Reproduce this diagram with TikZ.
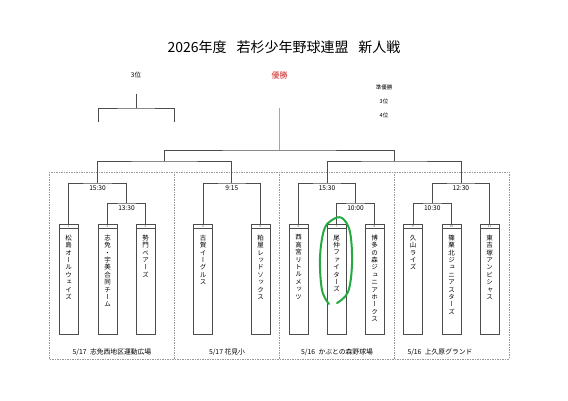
\documentclass[tikz,border=0pt]{standalone}
\usepackage{fontspec}
\setmainfont{Noto Sans CJK JP}
\newfontfamily\vfont[RawFeature=+vert]{Noto Sans CJK JP}
\makeatletter
\newcommand\vname[1]{\vbox{\baselineskip=7.4pt\lineskiplimit=-100pt\lineskip=0pt
  \@tfor\vch:=#1\do{\hbox to 8pt{\hss\vfont\vch\hss}}}}
\makeatother
\definecolor{ln}{gray}{0.3}
\definecolor{lnl}{gray}{0.65}
\definecolor{dsh}{gray}{0.6}
\definecolor{winred}{RGB}{205,35,35}
\definecolor{loopg}{RGB}{35,170,65}
\begin{document}
\begin{tikzpicture}[x=1pt,y=-1pt,
  br/.style={draw=ln,line width=0.7pt},
  brl/.style={draw=lnl,line width=1.2pt},
  team/.style={draw=ln,line width=0.6pt,minimum width=19pt,minimum height=110pt,inner sep=0pt},
  num/.style={font=\fontsize{3}{3}\selectfont,inner sep=0pt,text=ln},
  nm/.style={font=\fontsize{6.5}{7.4}\selectfont,inner sep=0pt,anchor=north},
  tm/.style={font=\fontsize{6.6}{7}\selectfont,inner sep=0pt},
  lab/.style={font=\fontsize{6.5}{7}\selectfont,inner sep=0pt},
  slab/.style={font=\fontsize{5.5}{6}\selectfont,inner sep=0pt},
  foot/.style={font=\fontsize{6.8}{7}\selectfont,inner sep=0pt},
  grp/.style={draw=dsh,line width=0.5pt,dash pattern=on 1.5pt off 1pt}]
\useasboundingbox[fill=white] (0,0) rectangle (568,401);

% title and top labels
\node[font=\fontsize{14}{16}\selectfont,inner sep=0pt] (title) at (284,47.5) {2026年度\hspace{0.7em}若杉少年野球連盟\hspace{0.7em}新人戦};
\node[lab] (third) at (136,75) {3位};
\node[lab,text=winred,font=\fontsize{8}{9}\selectfont] (champ) at (279.5,75) {優勝};
\node[slab] (runner) at (384,87) {準優勝};
\node[slab] (third2) at (384,101) {3位};
\node[slab] (fourth) at (384,115) {4位};

% group frames
\draw[grp] (49,172) rectangle (509,359);
\draw[grp] (174,172) -- (174,359);
\draw[grp] (279,172) -- (279,359);
\draw[grp] (394,172) -- (394,359);

% team boxes
\foreach \i/\x/\n in {1/68.5/松島オールウェイズ,2/107.5/志免・宇美合同チーム,3/145.5/勢門ベアーズ,
  4/203/古賀イーグルス,5/260.5/粕屋レッドソックス,6/298.5/西高宮リトルメッツ,
  7/336.5/尾仲ファイターズ,8/374.5/博多の森ジュニアホークス,9/413/久山ライズ,
  10/451.5/篠栗北ジュニアスターズ,11/489.5/東吉塚アンビシャス}{
  \node[team] (t\i) at (\x,279) {};
  \draw[ln,line width=0.6pt] ([yshift=-5pt]t\i.north west) -- ([yshift=-5pt]t\i.north east);
  \node[num] (n\i) at ([yshift=-2.5pt]t\i.north) {\i};
  \node[nm] (nm\i) at ([yshift=-11pt]t\i.north) {\expandafter\vname\expandafter{\n}};
}

% junction coordinates
\coordinate (m23) at (126.5,203);
\coordinate (g1) at (97.5,183);
\coordinate (g2) at (231.75,183);
\coordinate (m78) at (355.5,203);
\coordinate (g3) at (327,183);
\coordinate (m910) at (432.25,203);
\coordinate (g4) at (460.9,183);
\coordinate (sf1) at (164.6,161);
\coordinate (sf2) at (393.9,161);
\coordinate (fin) at (279.2,150);
\coordinate (top) at (279.2,108);
\coordinate (tp) at (136,94);
\coordinate (tpl) at (98,122);
\coordinate (tpr) at (174,122);
\coordinate (tph) at (136,108);

% brackets
\draw[br] (t2.north) |- (m23) -| (t3.north);
\draw[br] (t1.north) |- (g1) -| (m23);
\draw[br] (t4.north) |- (g2) -| (t5.north);
\draw[br] (t7.north) |- (m78) -| (t8.north);
\draw[br] (t6.north) |- (g3) -| (m78);
\draw[br] (t9.north) |- (m910) -| (t10.north);
\draw[br] (m910) |- (g4) -| (t11.north);
\draw[br] (g1) |- (sf1) -| (g2);
\draw[br] (g3) |- (sf2) -| (g4);
\draw[br] (sf1) |- (fin) -| (sf2);
\draw[brl] (fin) -- (top);
\draw[br] (tpl) |- (tph) -| (tpr);
\draw[br] (tph) -- (tp);

% times
\node[tm] (time1) at (97.5,188.5) {15:30};
\node[tm] (time2) at (126.5,208.5) {13:30};
\node[tm] (time3) at (231.75,188.5) {9:15};
\node[tm] (time4) at (327,188.5) {15:30};
\node[tm] (time5) at (355.5,208.5) {10:00};
\node[tm] (time6) at (460.9,188.5) {12:30};
\node[tm] (time7) at (432.25,208.5) {10:30};

% footers
\node[foot] (f1) at (112,352) {5/17\hspace{0.5em}志免西地区運動広場};
\node[foot] (f2) at (227,352) {5/17 花見小};
\node[foot] (f3) at (337,352) {5/16\hspace{0.5em}かぶとの森野球場};
\node[foot] (f4) at (440,352) {5/16\hspace{0.5em}上久原グランド};

% green hand-drawn loop
\draw[loopg,line width=2pt,line cap=round] plot[smooth,tension=0.6] coordinates
  {(337,303) (348,292) (352,264) (350,232) (342,218) (332,220) (324,230) (320,258) (322,290) (329,304)};
\end{tikzpicture}
\end{document}
